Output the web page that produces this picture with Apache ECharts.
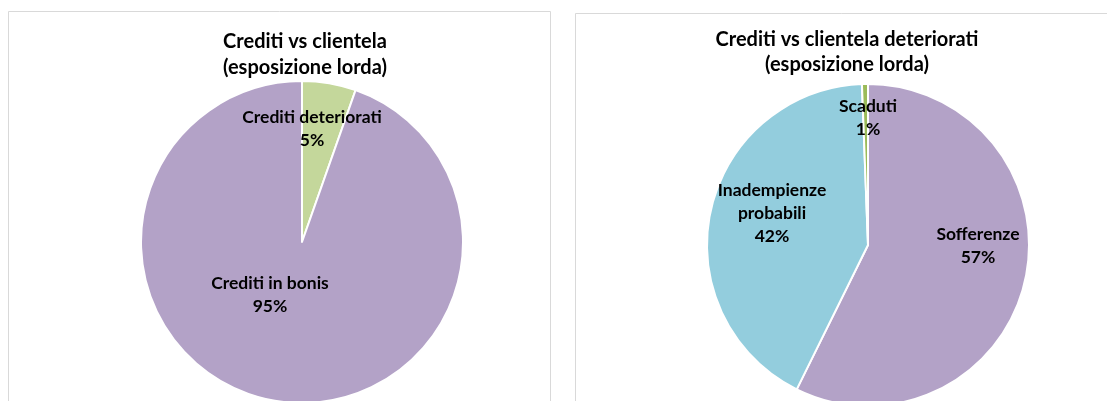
<!DOCTYPE html>
<html>
<head>
<meta charset="utf-8">
<script src="https://cdn.jsdelivr.net/npm/echarts@6/dist/echarts.min.js"></script>
<style>
  html, body { margin: 0; padding: 0; background: #fff; }
  #chart { width: 1107px; height: 401px; }
</style>
</head>
<body>
<div id="chart"></div>
<script>
// dati grafico sinistro
const leftNames = ["Crediti deteriorati", "Crediti in bonis"];
const leftValues = [5.4, 94.6];
// dati grafico destro
const rightNames = ["Sofferenze", "Inadempienze\nprobabili", "Scaduti"];
const rightValues = [57.3, 42.1, 0.6];

const leftColors = ["#c4d79b", "#b3a2c7"];
const rightColors = ["#b3a2c7", "#93cddd", "#9bbb59"];

// posizione etichette (stile, come in Excel)
const leftLabelPos = [[312, 129], [270, 295]];
const rightLabelPos = [[978, 246], [772, 213], [868, 118]];

const chart = echarts.init(document.getElementById("chart"));

function toData(names, values, colors) {
  return names.map((n, i) => ({
    name: n,
    value: values[i],
    itemStyle: { color: colors[i] },
  }));
}

const labelStyle = {
  show: true,
  position: "inside",
  formatter: "{b}\n{d}%",
  fontFamily: "Lato",
  fontWeight: "bold",
  fontSize: 17.5,
  lineHeight: 23,
  color: "#000",
  align: "center",
};

const titleStyle = {
  fontFamily: "Lato",
  fontWeight: "bold",
  fontSize: 20,
  lineHeight: 26,
  color: "#000",
};

let option = {
  animation: false,
  backgroundColor: "#fff",
  graphic: [
    {
      type: "rect",
      shape: { x: 8.5, y: 11.5, width: 542, height: 400 },
      style: { fill: "none", stroke: "#d9d9d9", lineWidth: 1 },
      silent: true,
    },
    {
      type: "rect",
      shape: { x: 575.5, y: 13.5, width: 540, height: 400 },
      style: { fill: "none", stroke: "#d9d9d9", lineWidth: 1 },
      silent: true,
    },
  ],
  title: [
    {
      text: "Crediti vs clientela\n(esposizione lorda)",
      left: 300,
      top: 24,
      textAlign: "center",
      textStyle: titleStyle,
    },
    {
      text: "Crediti vs clientela deteriorati\n(esposizione lorda)",
      left: 842,
      top: 22,
      textAlign: "center",
      textStyle: Object.assign({}, titleStyle, { lineHeight: 25 }),
    },
  ],
  series: [
    {
      type: "pie",
      center: [302, 242],
      radius: 161,
      startAngle: 90,
      clockwise: true,
      percentPrecision: 0,
      itemStyle: { borderColor: "#fff", borderWidth: 2 },
      label: labelStyle,
      labelLine: { show: false },
      labelLayout: (p) => ({
        x: leftLabelPos[p.dataIndex][0],
        y: leftLabelPos[p.dataIndex][1],
        align: "center",
        verticalAlign: "middle",
      }),
      data: toData(leftNames, leftValues, leftColors),
    },
    {
      type: "pie",
      center: [868, 245],
      radius: 161,
      startAngle: 90,
      clockwise: true,
      percentPrecision: 0,
      itemStyle: { borderColor: "#fff", borderWidth: 2 },
      label: labelStyle,
      labelLine: { show: false },
      labelLayout: (p) => ({
        x: rightLabelPos[p.dataIndex][0],
        y: rightLabelPos[p.dataIndex][1],
        align: "center",
        verticalAlign: "middle",
      }),
      data: toData(rightNames, rightValues, rightColors),
    },
  ],
};
chart.setOption(option);
</script>
</body>
</html>
